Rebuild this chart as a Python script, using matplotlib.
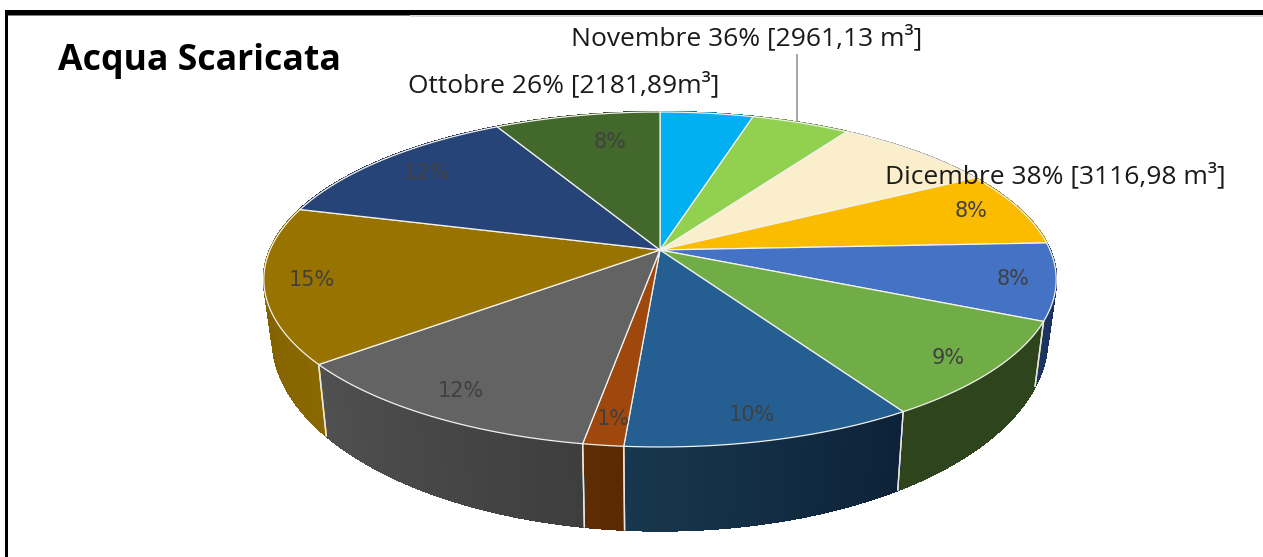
import numpy as np
import matplotlib
matplotlib.use("Agg")
import matplotlib.pyplot as plt
from matplotlib.collections import PolyCollection
from matplotlib.patches import Polygon, Rectangle

# ---- data (clockwise from the top of the pie) ----
slice_values = [4.5, 4.75, 7.75, 7.3, 7.4, 9.4, 10.12, 1.4, 11.58, 15.0, 12.8, 8.0]
slice_labels = ["", "", "", "8%", "8%", "9%", "10%", "1%", "12%", "15%", "12%", "8%"]
title = "Acqua Scaricata"
callouts = ["Novembre 36% [2961,13 m³]", "Ottobre 26% [2181,89m³]", "Dicembre 38% [3116,98 m³]"]

# ---- style ----
top_colors = ["#00b0f0", "#92d050", "#fbeecb", "#fbbc00", "#4472c4", "#70ad47",
              "#255e91", "#9e480e", "#636363", "#997300", "#264478", "#43682b"]
# side colour at the right-hand and left-hand end of each slice's wall
side_right = ["#007aa8", "#668f38", "#b0a68e", "#b08400", "#15294f", "#2e441c",
              "#0d2238", "#5a2a05", "#3e3e3e", "#8a6800", "#1a2f54", "#2e481e"]
side_left = ["#007aa8", "#668f38", "#b0a68e", "#b08400", "#1c3563", "#2e441c",
             "#17374f", "#5e2c05", "#505050", "#7d5f00", "#1a2f54", "#2e481e"]
label_xy = [None, None, None, (971, 211), (1013, 279), (948, 358), (752, 415),
            (613, 419), (461, 391), (312, 280), (427, 173), (610, 142)]
callout_xy = [(571, 38), (408, 85), (885, 176)]
callout_sizes = [19.0, 19.0, 19.0]

CX, CY, R, A, K = 660.0, 250.0, 390.0, 162.3, 0.176
DEPTH_DY, DEPTH_SY, DEPTH_SX = 54.0, 1.15, 0.978


def project(theta):
    u, v = np.sin(theta), -np.cos(theta)
    w = 1 - K * v
    return CX + R * u / w, CY + A * v / w


def project_low(theta):
    x, y = project(theta)
    return CX + DEPTH_SX * (x - CX), CY + DEPTH_DY + DEPTH_SY * (y - CY)


def rgb(h):
    return np.array(matplotlib.colors.to_rgb(h))


fig = plt.figure(figsize=(12.63, 5.57), dpi=100)
ax = fig.add_axes([0, 0, 1, 1])
ax.set_xlim(0, 1263)
ax.set_ylim(557, 0)
ax.axis("off")

# frame
ax.add_patch(Rectangle((5, 10), 1258, 4.5, color="black", lw=0, zorder=1))
ax.add_patch(Rectangle((5, 10), 3.2, 547, color="black", lw=0, zorder=1))
ax.add_patch(Rectangle((410, 14.5), 853, 2, color="#d9d9d9", lw=0, zorder=1))
ax.add_patch(Rectangle((8, 14.5), 402, 1.2, color="#808080", lw=0, zorder=1))

# leader line
ax.plot([797, 797], [55, 124], color="#a6a6a6", lw=1.4, zorder=1.5)

edges = np.cumsum([0] + slice_values) / sum(slice_values) * 2 * np.pi
ax_z_side, ax_z_top = 2, 3
for i in range(len(slice_values)):
    t = np.linspace(edges[i], edges[i + 1], 61)
    tx, ty = project(t)
    bx, by = project_low(t)
    # side strip as gradient of thin quads
    quads, cols = [], []
    c0, c1 = rgb(side_right[i]), rgb(side_left[i])
    for j in range(len(t) - 1):
        quads.append([(tx[j], ty[j]), (tx[j + 1], ty[j + 1]), (bx[j + 1], by[j + 1]), (bx[j], by[j])])
        cols.append(c0 + (c1 - c0) * j / (len(t) - 2))
    ax.add_collection(PolyCollection(quads, facecolors=cols, edgecolors=cols, linewidths=1.0,
                                     antialiaseds=False, zorder=ax_z_side))
    # slice boundaries on the side
    for e in (edges[i], edges[i + 1]):
        ex0, ey0 = project(e)
        ex1, ey1 = project_low(e)
        ax.plot([ex0, ex1], [ey0, ey1], color="#e8e8e0", lw=1.0, zorder=ax_z_side + 0.5)
    # top wedge
    pts = [(CX, CY)] + list(zip(tx, ty))
    ax.add_patch(Polygon(pts, closed=True, facecolor=top_colors[i], edgecolor="#f2f2ee",
                         lw=0.9, joinstyle="round", zorder=ax_z_top))

for lab, xy in zip(slice_labels, label_xy):
    if lab:
        ax.text(xy[0], xy[1], lab, ha="center", va="center", fontsize=15,
                family="DejaVu Sans", color="#404040", zorder=5)

for txt, xy, fs in zip(callouts, callout_xy, callout_sizes):
    ax.text(xy[0], xy[1], txt, ha="left", va="center", fontsize=fs,
            family="Open Sans", color="#1a1a1a", zorder=6)

ax.text(58, 61, title, ha="left", va="center", fontsize=25.7, family="Open Sans",
        fontweight="bold", color="black", zorder=6)

fig.savefig("out.png", dpi=100)
